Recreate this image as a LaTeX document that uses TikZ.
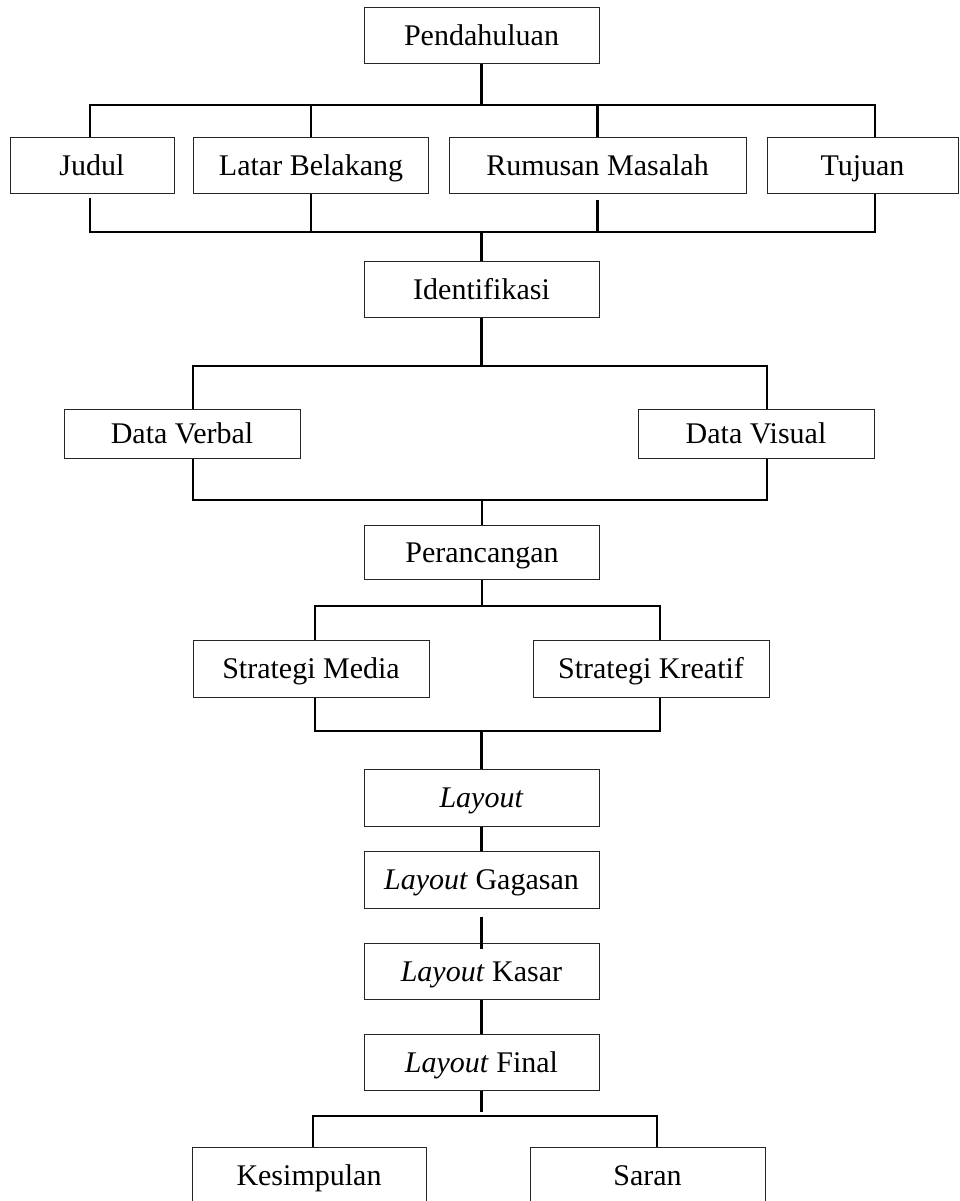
\documentclass[tikz,border=0pt]{standalone}
\usepackage{fontspec}
\setmainfont{Liberation Serif}
\usetikzlibrary{positioning,calc}

\begin{document}
\begin{tikzpicture}[x=1pt,y=-1pt,
	box/.style={draw=black!85,line width=1pt,minimum height=56pt,minimum width=235pt,inner sep=0pt,text height=20pt,text depth=0pt,font=\fontsize{30}{36}\selectfont},
	link/.style={line width=2.2pt}]
	\useasboundingbox (0,0) rectangle (959,1201);
	\node (Pend) [box] at (481.5,36) {Pendahuluan};
	\node (Judul) [box,minimum width=164pt] at (92,166) {Judul};
	\node (Latar) [box] at (311,166) {Latar Belakang};
	\node (Rumusan) [box,minimum width=297pt] at (597.5,166) {Rumusan Masalah};
	\node (Tujuan) [box,minimum width=191pt] at (862.5,166) {Tujuan};
	\node (Ident) [box] at (481.5,289) {Identifikasi};
	\node (DVerbal) [box,minimum width=236pt,minimum height=49pt] at (182,433.5) {Data Verbal};
	\node (DVisual) [box,minimum width=236pt,minimum height=49pt] at (756,433.5) {Data Visual};
	\node (Peranc) [box,minimum height=54pt] at (482,552) {Perancangan};
	\node (SMedia) [box,minimum width=236pt,minimum height=57pt] at (311,668.5) {Strategi Media};
	\node (SKreatif) [box,minimum width=236pt,minimum height=57pt] at (651,668.5) {Strategi Kreatif};
	\node (Layout) [box,minimum height=57pt] at (481.5,797.5) {\textit{Layout}};
	\node (LGagasan) [box,minimum height=57pt,below=24pt of Layout] {\textit{Layout} Gagasan};
	\node (LKasar) [box,below=34pt of LGagasan] {\textit{Layout} Kasar};
	\node (LFinal) [box,below=34pt of LKasar] {\textit{Layout} Final};
	\node (Kesimpulan) [box,minimum width=234pt] at (309,1175) {Kesimpulan};
	\node (Saran) [box] at (647.5,1175) {Saran};
	% bus lines
	\coordinate (bus1L) at (90,105);
	\coordinate (bus1R) at (875,105);
	\coordinate (bus2L) at (90,232);
	\coordinate (bus2R) at (875,232);
	\coordinate (bus3L) at (193,366);
	\coordinate (bus3R) at (767,366);
	\coordinate (bus4L) at (193,500);
	\coordinate (bus4R) at (767,500);
	\coordinate (bus5L) at (315,606);
	\coordinate (bus5R) at (660,606);
	\coordinate (bus6L) at (315,731);
	\coordinate (bus6R) at (660,731);
	\coordinate (bus7L) at (313,1116);
	\coordinate (bus7R) at (657,1116);
	% Pendahuluan
	\draw[link] (Pend) -- (Pend |- bus1L);
	\draw[link] (bus1L |- Judul.north) -- (bus1L) -- (bus1R) -- (bus1R |- Tujuan.north);
	\draw[link] (Latar.north) -- (Latar.north |- bus1L);
	\draw[link] (Rumusan.north) -- (Rumusan.north |- bus1L);
	\draw[link,shorten <=3pt] (bus2L |- Judul.south) -- (bus2L) -- (bus2R) -- (bus2R |- Tujuan.south);
	\draw[link] (Latar.south) -- (Latar.south |- bus2L);
	\draw[link,shorten <=5pt,shorten >=-1pt] (Rumusan.south) -- (Rumusan.south |- bus2L);
	\draw[link] (bus2L -| Ident) -- (Ident);
	% Identifikasi
	\draw[link] (Ident) -- (Ident |- bus3L);
	\draw[link] (bus3L |- DVerbal.north) -- (bus3L) -- (bus3R) -- (bus3R |- DVisual.north);
	\draw[link] (bus4L |- DVerbal.south) -- (bus4L) -- (bus4R) -- (bus4R |- DVisual.south);
	\draw[link] (bus4L -| Peranc) -- (Peranc);
	% Perancangan
	\draw[link] (Peranc) -- (Peranc |- bus5L);
	\draw[link] (bus5L |- SMedia.north) -- (bus5L) -- (bus5R) -- (bus5R |- SKreatif.north);
	\draw[link] (bus6L |- SMedia.south) -- (bus6L) -- (bus6R) -- (bus6R |- SKreatif.south);
	\draw[link] (bus6L -| Layout) -- (Layout);
	% Layout
	\draw[link] (Layout) -- (LGagasan);
	\draw[link,shorten <=8pt,shorten >=-6pt] (LGagasan) -- (LKasar);
	\draw[link] (LKasar) -- (LFinal);
	\draw[link,shorten >=4pt] (LFinal) -- (LFinal |- bus7L);
	\draw[link] (bus7L |- Kesimpulan.north) -- (bus7L) -- (bus7R) -- (bus7R |- Saran.north);
\end{tikzpicture}
\end{document}
